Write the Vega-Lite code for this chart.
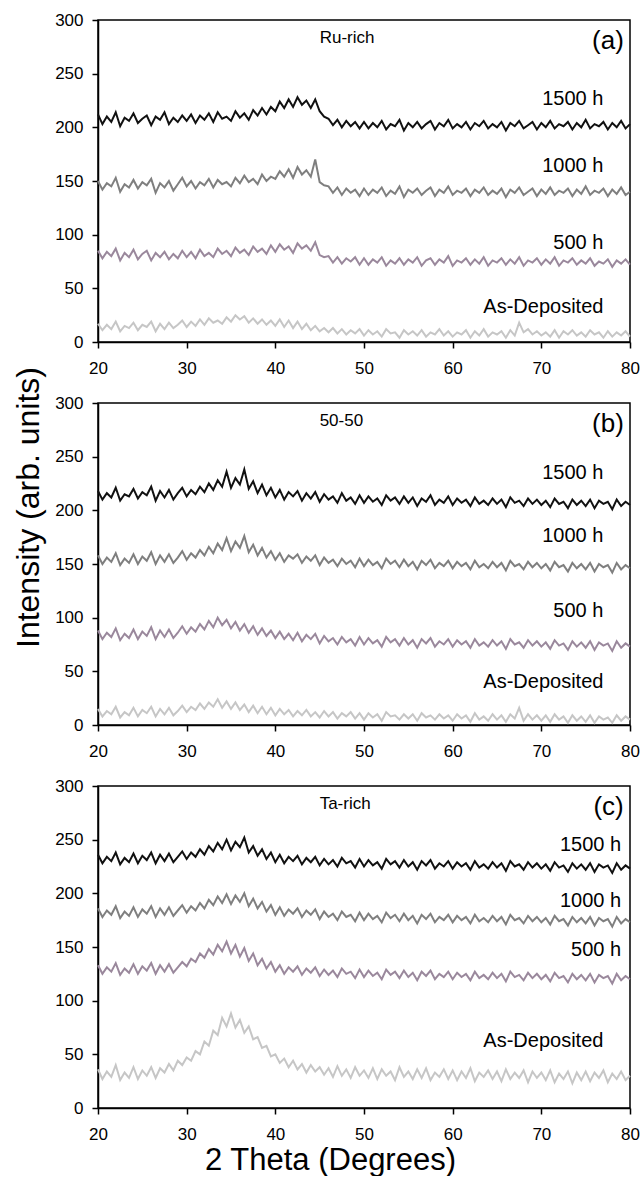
{
"$schema":"https://vega.github.io/schema/vega-lite/v6.json",
"background":"white",
"padding":{"left":11,"top":10,"right":3,"bottom":0},
"bounds":"flush",
"spacing":61,
"config":{"font":"Liberation Sans","view":{"stroke":"#000","strokeWidth":1.5},
"axis":{"domainColor":"#000","domainWidth":1.5,"tickColor":"#000","tickWidth":1.5,"tickSize":6,"labelFontSize":17,"labelColor":"#000","labelPadding":9,"labelFlush":false,"grid":false,"titleFontWeight":"normal","titleFontSize":32,"titleColor":"#000"},
"axisX":{"labelPadding":12}},
"data":{"values":[
{"x":20,"a1":212,"a2":150,"a3":85,"a4":17,"b1":218,"b2":158,"b3":88,"b4":15,"c1":236,"c2":186,"c3":133,"c4":36},
{"x":20.5,"a1":203,"a2":142,"a3":78,"a4":11,"b1":210,"b2":150,"b3":80,"b4":8,"c1":228,"c2":178,"c3":125,"c4":27},
{"x":21,"a1":210,"a2":148,"a3":84,"a4":16,"b1":216,"b2":156,"b3":86,"b4":13,"c1":234,"c2":184,"c3":131,"c4":34},
{"x":21.5,"a1":205,"a2":145,"a3":80,"a4":12,"b1":212,"b2":152,"b3":82,"b4":10,"c1":230,"c2":180,"c3":127,"c4":29},
{"x":22,"a1":214,"a2":153,"a3":87,"a4":19,"b1":221,"b2":160,"b3":90,"b4":17,"c1":238,"c2":188,"c3":135,"c4":40},
{"x":22.5,"a1":201,"a2":140,"a3":76,"a4":10,"b1":209,"b2":149,"b3":79,"b4":7,"c1":227,"c2":177,"c3":124,"c4":26},
{"x":23,"a1":209,"a2":147,"a3":83,"a4":15,"b1":215,"b2":155,"b3":85,"b4":12,"c1":233,"c2":183,"c3":130,"c4":33},
{"x":23.5,"a1":206,"a2":144,"a3":79,"a4":13,"b1":213,"b2":151,"b3":81,"b4":9,"c1":229,"c2":179,"c3":126,"c4":28},
{"x":24,"a1":213,"a2":151,"a3":86,"a4":18,"b1":220,"b2":159,"b3":89,"b4":16,"c1":237,"c2":187,"c3":134,"c4":38},
{"x":24.5,"a1":204,"a2":143,"a3":77,"a4":11,"b1":211,"b2":150,"b3":80,"b4":8,"c1":228,"c2":178,"c3":125,"c4":27},
{"x":25,"a1":208,"a2":149,"a3":82,"a4":16,"b1":217,"b2":157,"b3":87,"b4":14,"c1":235,"c2":185,"c3":132,"c4":35},
{"x":25.5,"a1":211,"a2":146,"a3":85,"a4":14,"b1":214,"b2":153,"b3":83,"b4":11,"c1":231,"c2":181,"c3":128,"c4":30},
{"x":26,"a1":202,"a2":152,"a3":76,"a4":19,"b1":222,"b2":161,"b3":91,"b4":17,"c1":238,"c2":188,"c3":135,"c4":38},
{"x":26.5,"a1":210,"a2":139,"a3":83,"a4":10,"b1":209,"b2":150,"b3":80,"b4":8,"c1":228,"c2":178,"c3":125,"c4":28},
{"x":27,"a1":207,"a2":148,"a3":79,"a4":17,"b1":218,"b2":158,"b3":88,"b4":15,"c1":236,"c2":186,"c3":133,"c4":37},
{"x":27.5,"a1":214,"a2":144,"a3":84,"a4":12,"b1":212,"b2":152,"b3":82,"b4":10,"c1":230,"c2":180,"c3":127,"c4":33},
{"x":28,"a1":203,"a2":150,"a3":77,"a4":18,"b1":219,"b2":159,"b3":89,"b4":16,"c1":237,"c2":187,"c3":134,"c4":41},
{"x":28.5,"a1":209,"a2":141,"a3":82,"a4":13,"b1":210,"b2":151,"b3":81,"b4":9,"c1":229,"c2":179,"c3":126,"c4":35},
{"x":29,"a1":205,"a2":147,"a3":78,"a4":16,"b1":216,"b2":156,"b3":86,"b4":13,"c1":234,"c2":184,"c3":131,"c4":44},
{"x":29.5,"a1":211,"a2":153,"a3":85,"a4":20,"b1":221,"b2":162,"b3":92,"b4":18,"c1":239,"c2":189,"c3":136,"c4":40},
{"x":30,"a1":206,"a2":145,"a3":79,"a4":14,"b1":213,"b2":154,"b3":85,"b4":12,"c1":232,"c2":182,"c3":132,"c4":47},
{"x":30.5,"a1":212,"a2":150,"a3":84,"a4":19,"b1":219,"b2":160,"b3":91,"b4":17,"c1":238,"c2":188,"c3":139,"c4":44},
{"x":31,"a1":204,"a2":143,"a3":78,"a4":15,"b1":215,"b2":156,"b3":87,"b4":14,"c1":234,"c2":184,"c3":136,"c4":53},
{"x":31.5,"a1":211,"a2":149,"a3":86,"a4":21,"b1":222,"b2":163,"b3":94,"b4":20,"c1":241,"c2":191,"c3":144,"c4":50},
{"x":32,"a1":207,"a2":146,"a3":80,"a4":16,"b1":217,"b2":158,"b3":89,"b4":15,"c1":236,"c2":186,"c3":140,"c4":62},
{"x":32.5,"a1":213,"a2":152,"a3":83,"a4":22,"b1":225,"b2":166,"b3":97,"b4":21,"c1":244,"c2":194,"c3":148,"c4":58},
{"x":33,"a1":205,"a2":144,"a3":79,"a4":18,"b1":219,"b2":160,"b3":91,"b4":17,"c1":239,"c2":189,"c3":143,"c4":72},
{"x":33.5,"a1":214,"a2":151,"a3":87,"a4":20,"b1":228,"b2":169,"b3":100,"b4":24,"c1":247,"c2":197,"c3":152,"c4":68},
{"x":34,"a1":208,"a2":147,"a3":82,"a4":17,"b1":222,"b2":163,"b3":93,"b4":16,"c1":241,"c2":191,"c3":146,"c4":84},
{"x":34.5,"a1":210,"a2":149,"a3":85,"a4":23,"b1":236,"b2":174,"b3":98,"b4":22,"c1":250,"c2":199,"c3":155,"c4":76},
{"x":35,"a1":206,"a2":145,"a3":80,"a4":19,"b1":221,"b2":162,"b3":90,"b4":15,"c1":240,"c2":190,"c3":144,"c4":88},
{"x":35.5,"a1":215,"a2":153,"a3":88,"a4":25,"b1":230,"b2":171,"b3":96,"b4":21,"c1":248,"c2":198,"c3":152,"c4":75},
{"x":36,"a1":209,"a2":148,"a3":83,"a4":21,"b1":224,"b2":165,"b3":88,"b4":14,"c1":243,"c2":192,"c3":141,"c4":82},
{"x":36.5,"a1":213,"a2":155,"a3":86,"a4":24,"b1":238,"b2":176,"b3":94,"b4":19,"c1":252,"c2":200,"c3":149,"c4":70},
{"x":37,"a1":207,"a2":149,"a3":81,"a4":18,"b1":220,"b2":161,"b3":86,"b4":12,"c1":238,"c2":188,"c3":137,"c4":76},
{"x":37.5,"a1":216,"a2":152,"a3":89,"a4":22,"b1":227,"b2":168,"b3":92,"b4":18,"c1":244,"c2":195,"c3":144,"c4":64},
{"x":38,"a1":211,"a2":147,"a3":84,"a4":17,"b1":216,"b2":158,"b3":84,"b4":11,"c1":235,"c2":186,"c3":133,"c4":66},
{"x":38.5,"a1":218,"a2":156,"a3":87,"a4":21,"b1":224,"b2":165,"b3":90,"b4":17,"c1":241,"c2":192,"c3":139,"c4":56},
{"x":39,"a1":212,"a2":150,"a3":82,"a4":16,"b1":214,"b2":156,"b3":83,"b4":10,"c1":232,"c2":183,"c3":130,"c4":58},
{"x":39.5,"a1":219,"a2":154,"a3":90,"a4":20,"b1":221,"b2":162,"b3":88,"b4":16,"c1":238,"c2":189,"c3":136,"c4":48},
{"x":40,"a1":215,"a2":152,"a3":84,"a4":15,"b1":212,"b2":154,"b3":81,"b4":9,"c1":229,"c2":180,"c3":127,"c4":50},
{"x":40.5,"a1":224,"a2":159,"a3":91,"a4":21,"b1":219,"b2":160,"b3":87,"b4":15,"c1":236,"c2":187,"c3":133,"c4":42},
{"x":41,"a1":218,"a2":154,"a3":86,"a4":14,"b1":210,"b2":152,"b3":80,"b4":10,"c1":228,"c2":179,"c3":125,"c4":46},
{"x":41.5,"a1":226,"a2":161,"a3":89,"a4":20,"b1":217,"b2":158,"b3":85,"b4":14,"c1":234,"c2":185,"c3":131,"c4":38},
{"x":42,"a1":219,"a2":153,"a3":83,"a4":13,"b1":213,"b2":155,"b3":79,"b4":8,"c1":230,"c2":181,"c3":127,"c4":44},
{"x":42.5,"a1":228,"a2":163,"a3":92,"a4":19,"b1":218,"b2":159,"b3":86,"b4":13,"c1":235,"c2":186,"c3":132,"c4":36},
{"x":43,"a1":221,"a2":156,"a3":87,"a4":12,"b1":209,"b2":151,"b3":78,"b4":9,"c1":227,"c2":178,"c3":124,"c4":41},
{"x":43.5,"a1":225,"a2":160,"a3":90,"a4":17,"b1":216,"b2":157,"b3":84,"b4":14,"c1":233,"c2":184,"c3":130,"c4":33},
{"x":44,"a1":218,"a2":154,"a3":85,"a4":11,"b1":211,"b2":153,"b3":80,"b4":8,"c1":229,"c2":180,"c3":126,"c4":40},
{"x":44.5,"a1":226,"a2":170,"a3":93,"a4":15,"b1":217,"b2":158,"b3":85,"b4":12,"c1":234,"c2":185,"c3":131,"c4":34},
{"x":45,"a1":215,"a2":149,"a3":81,"a4":10,"b1":208,"b2":149,"b3":76,"b4":7,"c1":226,"c2":176,"c3":123,"c4":38},
{"x":45.5,"a1":210,"a2":146,"a3":79,"a4":13,"b1":215,"b2":156,"b3":83,"b4":13,"c1":232,"c2":183,"c3":129,"c4":31},
{"x":46,"a1":208,"a2":145,"a3":80,"a4":9,"b1":210,"b2":151,"b3":78,"b4":8,"c1":227,"c2":178,"c3":124,"c4":37},
{"x":46.5,"a1":202,"a2":139,"a3":74,"a4":13,"b1":213,"b2":154,"b3":81,"b4":12,"c1":231,"c2":181,"c3":128,"c4":29},
{"x":47,"a1":207,"a2":144,"a3":79,"a4":8,"b1":207,"b2":148,"b3":75,"b4":6,"c1":225,"c2":175,"c3":122,"c4":39},
{"x":47.5,"a1":200,"a2":137,"a3":73,"a4":12,"b1":216,"b2":155,"b3":82,"b4":11,"c1":233,"c2":183,"c3":130,"c4":30},
{"x":48,"a1":206,"a2":143,"a3":78,"a4":7,"b1":209,"b2":150,"b3":77,"b4":8,"c1":228,"c2":178,"c3":125,"c4":36},
{"x":48.5,"a1":201,"a2":139,"a3":75,"a4":11,"b1":212,"b2":153,"b3":80,"b4":12,"c1":230,"c2":180,"c3":127,"c4":28},
{"x":49,"a1":205,"a2":142,"a3":79,"a4":8,"b1":206,"b2":147,"b3":74,"b4":6,"c1":224,"c2":174,"c3":121,"c4":38},
{"x":49.5,"a1":199,"a2":136,"a3":72,"a4":12,"b1":214,"b2":155,"b3":82,"b4":11,"c1":232,"c2":182,"c3":129,"c4":30},
{"x":50,"a1":205,"a2":143,"a3":78,"a4":6,"b1":207,"b2":148,"b3":75,"b4":5,"c1":225,"c2":175,"c3":122,"c4":35},
{"x":50.5,"a1":199,"a2":137,"a3":72,"a4":11,"b1":213,"b2":154,"b3":81,"b4":11,"c1":231,"c2":181,"c3":128,"c4":28},
{"x":51,"a1":204,"a2":142,"a3":77,"a4":7,"b1":208,"b2":149,"b3":76,"b4":7,"c1":226,"c2":176,"c3":123,"c4":37},
{"x":51.5,"a1":200,"a2":139,"a3":74,"a4":10,"b1":211,"b2":152,"b3":79,"b4":10,"c1":229,"c2":179,"c3":126,"c4":27},
{"x":52,"a1":206,"a2":144,"a3":79,"a4":5,"b1":205,"b2":146,"b3":73,"b4":4,"c1":223,"c2":173,"c3":120,"c4":36},
{"x":52.5,"a1":198,"a2":136,"a3":71,"a4":12,"b1":214,"b2":155,"b3":82,"b4":12,"c1":232,"c2":182,"c3":129,"c4":30},
{"x":53,"a1":203,"a2":141,"a3":76,"a4":8,"b1":209,"b2":150,"b3":77,"b4":8,"c1":227,"c2":177,"c3":124,"c4":34},
{"x":53.5,"a1":201,"a2":138,"a3":73,"a4":9,"b1":212,"b2":153,"b3":80,"b4":9,"c1":230,"c2":180,"c3":127,"c4":26},
{"x":54,"a1":207,"a2":145,"a3":78,"a4":4,"b1":206,"b2":147,"b3":74,"b4":5,"c1":224,"c2":174,"c3":121,"c4":38},
{"x":54.5,"a1":197,"a2":135,"a3":72,"a4":11,"b1":213,"b2":154,"b3":81,"b4":10,"c1":231,"c2":181,"c3":128,"c4":29},
{"x":55,"a1":204,"a2":142,"a3":77,"a4":7,"b1":207,"b2":148,"b3":75,"b4":6,"c1":225,"c2":175,"c3":122,"c4":34},
{"x":55.5,"a1":200,"a2":139,"a3":74,"a4":10,"b1":212,"b2":152,"b3":79,"b4":10,"c1":229,"c2":179,"c3":126,"c4":27},
{"x":56,"a1":205,"a2":143,"a3":79,"a4":6,"b1":204,"b2":145,"b3":72,"b4":4,"c1":222,"c2":172,"c3":119,"c4":36},
{"x":56.5,"a1":199,"a2":137,"a3":71,"a4":11,"b1":211,"b2":153,"b3":80,"b4":11,"c1":230,"c2":180,"c3":127,"c4":28},
{"x":57,"a1":203,"a2":141,"a3":76,"a4":5,"b1":208,"b2":149,"b3":76,"b4":7,"c1":226,"c2":176,"c3":123,"c4":37},
{"x":57.5,"a1":206,"a2":144,"a3":78,"a4":9,"b1":214,"b2":154,"b3":81,"b4":9,"c1":231,"c2":181,"c3":128,"c4":26},
{"x":58,"a1":198,"a2":136,"a3":72,"a4":7,"b1":205,"b2":146,"b3":73,"b4":5,"c1":223,"c2":173,"c3":120,"c4":33},
{"x":58.5,"a1":204,"a2":142,"a3":77,"a4":12,"b1":210,"b2":151,"b3":78,"b4":10,"c1":228,"c2":178,"c3":125,"c4":29},
{"x":59,"a1":201,"a2":139,"a3":74,"a4":6,"b1":207,"b2":148,"b3":75,"b4":6,"c1":225,"c2":175,"c3":122,"c4":36},
{"x":59.5,"a1":207,"a2":145,"a3":80,"a4":10,"b1":213,"b2":153,"b3":80,"b4":9,"c1":230,"c2":180,"c3":127,"c4":27},
{"x":60,"a1":199,"a2":137,"a3":71,"a4":5,"b1":205,"b2":146,"b3":73,"b4":4,"c1":223,"c2":173,"c3":120,"c4":35},
{"x":60.5,"a1":203,"a2":141,"a3":76,"a4":9,"b1":211,"b2":152,"b3":79,"b4":10,"c1":229,"c2":179,"c3":126,"c4":26},
{"x":61,"a1":200,"a2":139,"a3":74,"a4":7,"b1":207,"b2":148,"b3":75,"b4":6,"c1":225,"c2":175,"c3":122,"c4":34},
{"x":61.5,"a1":205,"a2":143,"a3":78,"a4":11,"b1":210,"b2":151,"b3":78,"b4":9,"c1":228,"c2":178,"c3":125,"c4":28},
{"x":62,"a1":198,"a2":136,"a3":72,"a4":4,"b1":204,"b2":145,"b3":72,"b4":3,"c1":222,"c2":172,"c3":119,"c4":37},
{"x":62.5,"a1":204,"a2":142,"a3":77,"a4":10,"b1":212,"b2":153,"b3":80,"b4":11,"c1":230,"c2":180,"c3":127,"c4":25},
{"x":63,"a1":201,"a2":139,"a3":73,"a4":6,"b1":206,"b2":147,"b3":74,"b4":5,"c1":224,"c2":174,"c3":121,"c4":33},
{"x":63.5,"a1":206,"a2":144,"a3":79,"a4":12,"b1":209,"b2":150,"b3":77,"b4":8,"c1":227,"c2":177,"c3":124,"c4":29},
{"x":64,"a1":199,"a2":137,"a3":71,"a4":5,"b1":205,"b2":146,"b3":73,"b4":4,"c1":223,"c2":173,"c3":120,"c4":35},
{"x":64.5,"a1":203,"a2":141,"a3":76,"a4":9,"b1":211,"b2":152,"b3":79,"b4":10,"c1":229,"c2":179,"c3":126,"c4":27},
{"x":65,"a1":200,"a2":138,"a3":74,"a4":7,"b1":206,"b2":147,"b3":74,"b4":5,"c1":224,"c2":174,"c3":121,"c4":34},
{"x":65.5,"a1":205,"a2":143,"a3":78,"a4":10,"b1":210,"b2":151,"b3":78,"b4":9,"c1":228,"c2":178,"c3":125,"c4":25},
{"x":66,"a1":197,"a2":135,"a3":72,"a4":4,"b1":203,"b2":144,"b3":71,"b4":3,"c1":221,"c2":171,"c3":118,"c4":36},
{"x":66.5,"a1":204,"a2":142,"a3":77,"a4":11,"b1":212,"b2":153,"b3":80,"b4":10,"c1":230,"c2":180,"c3":127,"c4":27},
{"x":67,"a1":201,"a2":139,"a3":73,"a4":6,"b1":207,"b2":148,"b3":75,"b4":6,"c1":225,"c2":175,"c3":122,"c4":33},
{"x":67.5,"a1":206,"a2":144,"a3":79,"a4":18,"b1":209,"b2":150,"b3":77,"b4":16,"c1":227,"c2":177,"c3":124,"c4":28},
{"x":68,"a1":199,"a2":137,"a3":71,"a4":9,"b1":204,"b2":145,"b3":72,"b4":4,"c1":222,"c2":172,"c3":119,"c4":35},
{"x":68.5,"a1":202,"a2":140,"a3":76,"a4":12,"b1":211,"b2":152,"b3":79,"b4":10,"c1":229,"c2":179,"c3":126,"c4":24},
{"x":69,"a1":205,"a2":143,"a3":74,"a4":7,"b1":206,"b2":147,"b3":74,"b4":5,"c1":224,"c2":174,"c3":121,"c4":34},
{"x":69.5,"a1":198,"a2":136,"a3":78,"a4":10,"b1":210,"b2":151,"b3":78,"b4":9,"c1":228,"c2":178,"c3":125,"c4":28},
{"x":70,"a1":204,"a2":142,"a3":72,"a4":6,"b1":205,"b2":146,"b3":73,"b4":4,"c1":223,"c2":173,"c3":120,"c4":33},
{"x":70.5,"a1":200,"a2":138,"a3":77,"a4":9,"b1":209,"b2":150,"b3":77,"b4":9,"c1":227,"c2":177,"c3":124,"c4":26},
{"x":71,"a1":206,"a2":144,"a3":73,"a4":5,"b1":203,"b2":144,"b3":71,"b4":3,"c1":221,"c2":171,"c3":118,"c4":35},
{"x":71.5,"a1":199,"a2":137,"a3":79,"a4":11,"b1":211,"b2":152,"b3":79,"b4":10,"c1":229,"c2":179,"c3":126,"c4":24},
{"x":72,"a1":203,"a2":141,"a3":71,"a4":4,"b1":206,"b2":147,"b3":74,"b4":5,"c1":224,"c2":174,"c3":121,"c4":32},
{"x":72.5,"a1":201,"a2":139,"a3":76,"a4":10,"b1":208,"b2":149,"b3":76,"b4":8,"c1":226,"c2":176,"c3":123,"c4":27},
{"x":73,"a1":205,"a2":143,"a3":74,"a4":7,"b1":202,"b2":143,"b3":70,"b4":2,"c1":220,"c2":170,"c3":117,"c4":34},
{"x":73.5,"a1":198,"a2":136,"a3":78,"a4":11,"b1":210,"b2":151,"b3":78,"b4":9,"c1":228,"c2":178,"c3":125,"c4":23},
{"x":74,"a1":204,"a2":142,"a3":72,"a4":6,"b1":205,"b2":146,"b3":73,"b4":4,"c1":223,"c2":173,"c3":120,"c4":33},
{"x":74.5,"a1":200,"a2":138,"a3":76,"a4":9,"b1":209,"b2":150,"b3":77,"b4":8,"c1":227,"c2":177,"c3":124,"c4":26},
{"x":75,"a1":207,"a2":145,"a3":73,"a4":5,"b1":204,"b2":145,"b3":72,"b4":3,"c1":222,"c2":172,"c3":119,"c4":34},
{"x":75.5,"a1":199,"a2":137,"a3":78,"a4":11,"b1":210,"b2":151,"b3":78,"b4":9,"c1":228,"c2":178,"c3":125,"c4":25},
{"x":76,"a1":203,"a2":141,"a3":71,"a4":7,"b1":202,"b2":143,"b3":70,"b4":2,"c1":220,"c2":170,"c3":117,"c4":33},
{"x":76.5,"a1":201,"a2":139,"a3":75,"a4":9,"b1":209,"b2":150,"b3":77,"b4":8,"c1":227,"c2":177,"c3":124,"c4":28},
{"x":77,"a1":205,"a2":143,"a3":73,"a4":4,"b1":206,"b2":147,"b3":74,"b4":5,"c1":224,"c2":174,"c3":121,"c4":35},
{"x":77.5,"a1":198,"a2":136,"a3":77,"a4":10,"b1":208,"b2":149,"b3":76,"b4":7,"c1":226,"c2":176,"c3":123,"c4":24},
{"x":78,"a1":204,"a2":142,"a3":70,"a4":5,"b1":201,"b2":142,"b3":69,"b4":2,"c1":219,"c2":169,"c3":116,"c4":32},
{"x":78.5,"a1":200,"a2":138,"a3":76,"a4":9,"b1":210,"b2":151,"b3":78,"b4":9,"c1":228,"c2":178,"c3":125,"c4":27},
{"x":79,"a1":206,"a2":144,"a3":73,"a4":6,"b1":204,"b2":145,"b3":72,"b4":4,"c1":222,"c2":172,"c3":119,"c4":34},
{"x":79.5,"a1":199,"a2":137,"a3":77,"a4":10,"b1":208,"b2":149,"b3":76,"b4":8,"c1":226,"c2":176,"c3":123,"c4":26},
{"x":80,"a1":203,"a2":140,"a3":72,"a4":5,"b1":205,"b2":146,"b3":73,"b4":5,"c1":223,"c2":173,"c3":120,"c4":30}
]},
"vconcat":[
{"width":532,"height":322,
"layer":[
{"transform":[{"fold":["a4","a3","a2","a1"],"as":["s","y"]}],
"mark":{"type":"line","strokeWidth":2},
"encoding":{
"x":{"field":"x","type":"quantitative","scale":{"domain":[20,80],"nice":false},"axis":{"values":[20,30,40,50,60,70,80],"title":null}},
"y":{"field":"y","type":"quantitative","scale":{"domain":[0,300],"nice":false},"axis":{"values":[0,50,100,150,200,250,300],"title":null}},
"color":{"field":"s","type":"nominal","scale":{"domain":["a1","a2","a3","a4"],"range":["#111111","#7f7f7f","#9a889c","#c6c6c6"]},"legend":null}}},
{"data":{"values":[{"x":77,"y":226,"t":"1500 h"},{"x":77,"y":164,"t":"1000 h"},{"x":77,"y":92,"t":"500 h"},{"x":77,"y":33,"t":"As-Deposited"}]},
"mark":{"type":"text","align":"right","baseline":"middle","fontSize":20,"color":"#000"},
"encoding":{"x":{"field":"x","type":"quantitative"},"y":{"field":"y","type":"quantitative"},"text":{"field":"t"}}},
{"data":{"values":[{"x":79.3,"y":280,"t":"(a)"}]},
"mark":{"type":"text","align":"right","baseline":"middle","fontSize":26,"color":"#000"},
"encoding":{"x":{"field":"x","type":"quantitative"},"y":{"field":"y","type":"quantitative"},"text":{"field":"t"}}},
{"data":{"values":[{"x":45,"y":283,"t":"Ru-rich"}]},
"mark":{"type":"text","align":"left","baseline":"middle","fontSize":17,"color":"#000"},
"encoding":{"x":{"field":"x","type":"quantitative"},"y":{"field":"y","type":"quantitative"},"text":{"field":"t"}}}
]},
{"width":532,"height":322,
"layer":[
{"transform":[{"fold":["b4","b3","b2","b1"],"as":["s","y"]}],
"mark":{"type":"line","strokeWidth":2},
"encoding":{
"x":{"field":"x","type":"quantitative","scale":{"domain":[20,80],"nice":false},"axis":{"values":[20,30,40,50,60,70,80],"title":null}},
"y":{"field":"y","type":"quantitative","scale":{"domain":[0,300],"nice":false},"axis":{"values":[0,50,100,150,200,250,300],"title":"Intensity (arb. units)","titlePadding":9,"titleY":104}},
"color":{"field":"s","type":"nominal","scale":{"domain":["b1","b2","b3","b4"],"range":["#111111","#7f7f7f","#9a889c","#c6c6c6"]},"legend":null}}},
{"data":{"values":[{"x":77,"y":235,"t":"1500 h"},{"x":77,"y":176,"t":"1000 h"},{"x":77,"y":106,"t":"500 h"},{"x":77,"y":40,"t":"As-Deposited"}]},
"mark":{"type":"text","align":"right","baseline":"middle","fontSize":20,"color":"#000"},
"encoding":{"x":{"field":"x","type":"quantitative"},"y":{"field":"y","type":"quantitative"},"text":{"field":"t"}}},
{"data":{"values":[{"x":79.3,"y":280,"t":"(b)"}]},
"mark":{"type":"text","align":"right","baseline":"middle","fontSize":26,"color":"#000"},
"encoding":{"x":{"field":"x","type":"quantitative"},"y":{"field":"y","type":"quantitative"},"text":{"field":"t"}}},
{"data":{"values":[{"x":45,"y":283,"t":"50-50"}]},
"mark":{"type":"text","align":"left","baseline":"middle","fontSize":17,"color":"#000"},
"encoding":{"x":{"field":"x","type":"quantitative"},"y":{"field":"y","type":"quantitative"},"text":{"field":"t"}}}
]},
{"width":532,"height":322,
"layer":[
{"transform":[{"fold":["c4","c3","c2","c1"],"as":["s","y"]}],
"mark":{"type":"line","strokeWidth":2},
"encoding":{
"x":{"field":"x","type":"quantitative","scale":{"domain":[20,80],"nice":false},"axis":{"values":[20,30,40,50,60,70,80],"title":"2 Theta (Degrees)","titlePadding":3,"titleFontSize":31,"titleX":232}},
"y":{"field":"y","type":"quantitative","scale":{"domain":[0,300],"nice":false},"axis":{"values":[0,50,100,150,200,250,300],"title":null}},
"color":{"field":"s","type":"nominal","scale":{"domain":["c1","c2","c3","c4"],"range":["#111111","#7f7f7f","#9a889c","#c6c6c6"]},"legend":null}}},
{"data":{"values":[{"x":79,"y":245,"t":"1500 h"},{"x":79,"y":193,"t":"1000 h"},{"x":79,"y":147,"t":"500 h"},{"x":77,"y":62,"t":"As-Deposited"}]},
"mark":{"type":"text","align":"right","baseline":"middle","fontSize":20,"color":"#000"},
"encoding":{"x":{"field":"x","type":"quantitative"},"y":{"field":"y","type":"quantitative"},"text":{"field":"t"}}},
{"data":{"values":[{"x":79.3,"y":280,"t":"(c)"}]},
"mark":{"type":"text","align":"right","baseline":"middle","fontSize":26,"color":"#000"},
"encoding":{"x":{"field":"x","type":"quantitative"},"y":{"field":"y","type":"quantitative"},"text":{"field":"t"}}},
{"data":{"values":[{"x":45,"y":283,"t":"Ta-rich"}]},
"mark":{"type":"text","align":"left","baseline":"middle","fontSize":17,"color":"#000"},
"encoding":{"x":{"field":"x","type":"quantitative"},"y":{"field":"y","type":"quantitative"},"text":{"field":"t"}}}
]}
]
}
